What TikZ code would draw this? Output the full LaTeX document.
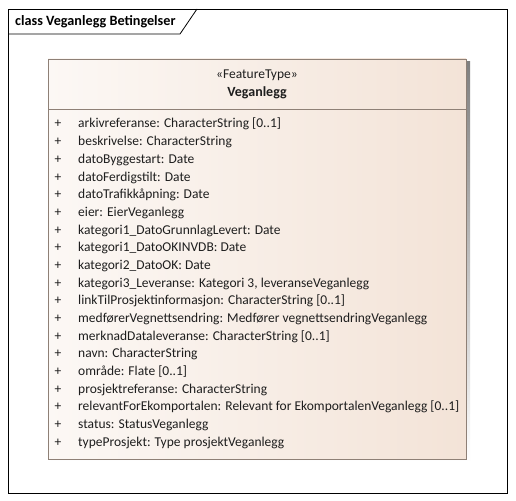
\documentclass[tikz,border=0pt]{standalone}
\usepackage{fontspec}
\setmainfont{Carlito}
\begin{document}
\definecolor{frameline}{RGB}{0,0,0}
\definecolor{boxline}{RGB}{142,128,118}
\definecolor{boxlight}{RGB}{252,248,245}
\definecolor{boxpeach}{RGB}{243,227,215}
\definecolor{shade}{RGB}{200,194,190}
\definecolor{txt}{RGB}{30,30,30}
\tikzset{
  attr/.style={anchor=base west, inner sep=0pt, text=txt, font=\fontsize{13.5bp}{15bp}\selectfont},
  plus/.style={anchor=base, inner sep=0pt, text=txt, font=\fontsize{13.5bp}{15bp}\selectfont},
  headtext/.style={anchor=base, inner sep=0pt, text=txt},
}
\begin{tikzpicture}[x=1bp,y=-1bp]
\useasboundingbox (0,0) rectangle (516,501);
\fill[white] (0,0) rectangle (516,501);
% diagram frame with name tab
\draw[frameline, line width=0.8bp] (8.5,9) rectangle (507.5,493);
\draw[frameline, line width=0.8bp] (8.5,34) -- (180,34) -- (197,9);
\node[headtext, anchor=base west, text=black, font=\bfseries\fontsize{14.2bp}{16bp}\selectfont] (title) at (15,26) {class Veganlegg Betingelser};
% class box
\fill[shade] (51,62) rectangle (470,462);
\shade[left color=boxlight, right color=boxpeach] (48,59) rectangle (466,459);
\draw[boxline, line width=0.9bp] (48,59) rectangle (466,459);
\draw[boxline, line width=0.9bp] (48,109) -- (466,109);
\node[headtext, font=\fontsize{13.5bp}{15bp}\selectfont] (stereo) at (257,79) {«FeatureType»};
\node[headtext, font=\bfseries\fontsize{14bp}{16bp}\selectfont] (name) at (257,97) {Veganlegg};
% attributes
\foreach [count=\i] \a in {
  {arkivreferanse: CharacterString [0..1]},
  {beskrivelse: CharacterString},
  {datoByggestart: Date},
  {datoFerdigstilt: Date},
  {datoTrafikkåpning: Date},
  {eier: EierVeganlegg},
  {kategori1\_DatoGrunnlagLevert: Date},
  {kategori1\_DatoOKINVDB: Date},
  {kategori2\_DatoOK: Date},
  {kategori3\_Leveranse: Kategori 3, leveranseVeganlegg},
  {linkTilProsjektinformasjon: CharacterString [0..1]},
  {medførerVegnettsendring: Medfører vegnettsendringVeganlegg},
  {merknadDataleveranse: CharacterString [0..1]},
  {navn: CharacterString},
  {område: Flate [0..1]},
  {prosjektreferanse: CharacterString},
  {relevantForEkomportalen: Relevant for EkomportalenVeganlegg [0..1]},
  {status: StatusVeganlegg},
  {typeProsjekt: Type prosjektVeganlegg}} {
  \pgfmathsetmacro{\yy}{128+(\i-1)*17.67}
  \node[plus] (p\i) at (58,\yy) {+};
  \node[attr] (a\i) at (78,\yy) {\a};
}
\end{tikzpicture}
\end{document}
